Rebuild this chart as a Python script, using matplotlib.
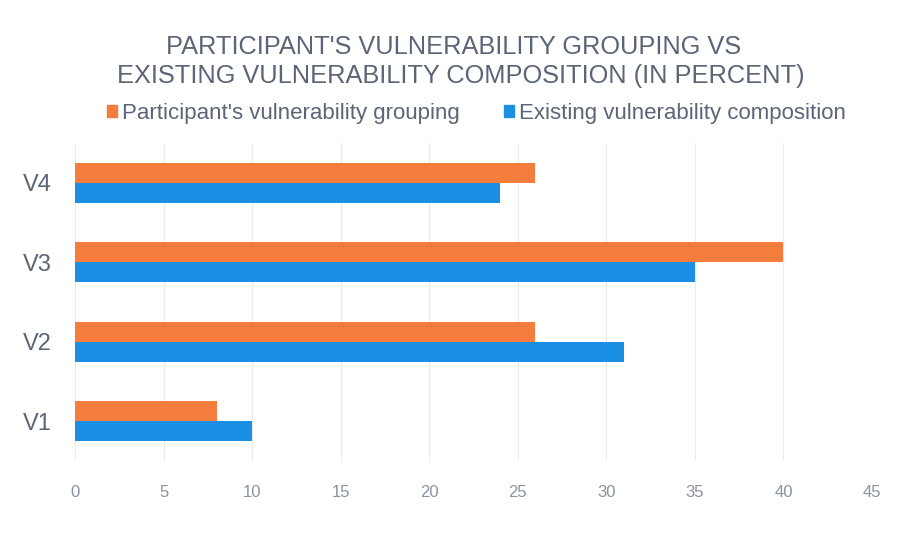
import matplotlib
matplotlib.use("Agg")
import matplotlib.pyplot as plt
import numpy as np
from matplotlib.patches import Patch

categories = ["V1", "V2", "V3", "V4"]
participant = [8, 26, 40, 26]
existing = [10, 31, 35, 24]
xticks = [0, 5, 10, 15, 20, 25, 30, 35, 40, 45]

orange = "#F47C3C"
blue = "#1A8FE3"
txt = "#5B6577"

plt.rcParams['font.family'] = ['Liberation Sans', 'DejaVu Sans']

fig = plt.figure(figsize=(8.99, 5.45), dpi=100)
ax = fig.add_axes([75/899, 84/545, (872-75)/899, (402-84)/545])

y = np.arange(len(categories))
h = 0.25
ax.barh(y + h/2, participant, height=h, color=orange, zorder=3)
ax.barh(y - h/2, existing, height=h, color=blue, zorder=3)

ax.set_xlim(0, 45)
ax.set_ylim(-0.5, 3.5)
ax.set_xticks(xticks)
ax.set_xticklabels([str(t) for t in xticks], color="#8A93A0", fontsize=12)
ax.set_yticks(y)
ax.set_yticklabels(categories, color=txt, fontsize=17)
ax.tick_params(axis='x', length=0, pad=17)
ax.tick_params(axis='y', length=0, pad=17)
ax.grid(axis='x', color="#EAECEF", linewidth=0.8, zorder=0)
for s in ax.spines.values():
    s.set_visible(False)

fig.text(0.505, 1 - 47/545, "PARTICIPANT'S VULNERABILITY GROUPING VS", ha='center', va='center',
         fontsize=18.3, color=txt)
fig.text(0.513, 1 - 76/545, "EXISTING VULNERABILITY COMPOSITION (IN PERCENT)", ha='center', va='center',
         fontsize=18.3, color=txt)

handles = [Patch(color=orange, label="Participant's vulnerability grouping"),
           Patch(color=blue, label="Existing vulnerability composition")]
leg = fig.legend(handles=handles, loc='center', bbox_to_anchor=(0.53, 1 - 113/545), ncol=2,
                 frameon=False, fontsize=16, handlelength=0.45, handleheight=0.45,
                 handletextpad=0.2, columnspacing=2.0, labelcolor=txt)

fig.savefig("out.png", dpi=100, facecolor="white")
